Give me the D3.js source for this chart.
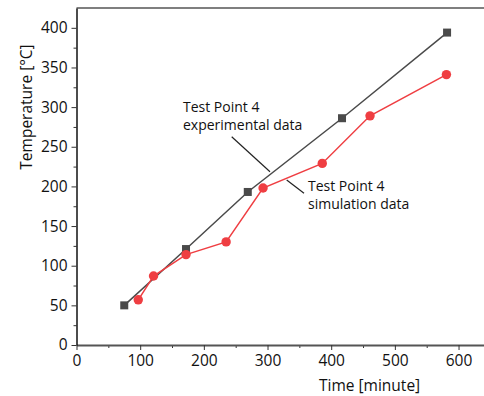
<!DOCTYPE html>
<html><head><meta charset="utf-8">
<script src="https://cdn.jsdelivr.net/npm/d3@7"></script>
<style>body{margin:0;background:#fff}svg{display:block}text{font-family:"Open Sans",sans-serif}</style>
</head><body>
<svg id="c" width="484" height="396"></svg>
<script>
const expTime = [75, 172, 269, 417, 582];
const expTemp = [50, 121, 193, 286, 394];
const simTime = [97, 121, 172, 235, 293, 386, 461, 581];
const simTemp = [57, 87, 114, 130, 198, 229, 289, 341];
const xTicks = [0, 100, 200, 300, 400, 500, 600];
const yTicks = [0, 50, 100, 150, 200, 250, 300, 350, 400];

const svg = d3.select("#c");
const L = 76.5, R = 484, T = 8, B = 345;
const x = d3.scaleLinear().domain([0, 640]).range([L, R]);
const y = d3.scaleLinear().domain([0, 425]).range([B, T]);
const gray = "#4a4a4a", red = "#ef3e42";

// top frame line
svg.append("line").attr("x1", L).attr("x2", R).attr("y1", T).attr("y2", T)
  .attr("stroke", "#555").attr("stroke-width", 1.5);

// minor ticks
const xMinor = d3.range(50, 640, 100);
const yMinor = d3.range(25, 425, 50);
svg.append("g").attr("transform", `translate(0,${B})`)
  .call(d3.axisBottom(x).tickValues(xMinor).tickSize(3).tickSizeOuter(0).tickFormat(""))
  .call(g => g.select(".domain").remove())
  .call(g => g.selectAll("line").attr("stroke", "#333"));
svg.append("g").attr("transform", `translate(${L},0)`)
  .call(d3.axisLeft(y).tickValues(yMinor).tickSize(3).tickSizeOuter(0).tickFormat(""))
  .call(g => g.select(".domain").remove())
  .call(g => g.selectAll("line").attr("stroke", "#333"));

// x axis
const gx = svg.append("g").attr("transform", `translate(0,${B})`)
  .call(d3.axisBottom(x).tickValues(xTicks).tickSize(5).tickSizeOuter(0).tickPadding(5));
gx.select(".domain").attr("stroke", "#555").attr("stroke-width", 2);
gx.selectAll("line").attr("stroke", "#333");
gx.selectAll("text").attr("font-size", 15.5).attr("fill", "#111").attr("font-family", '"Open Sans",sans-serif');

// y axis
const gy = svg.append("g").attr("transform", `translate(${L},0)`)
  .call(d3.axisLeft(y).tickValues(yTicks).tickSize(5).tickSizeOuter(0).tickPadding(4));
gy.select(".domain").attr("stroke", "#111").attr("stroke-width", 1.5);
gy.selectAll("line").attr("stroke", "#333");
gy.selectAll("text").attr("font-size", 15.5).attr("fill", "#111").attr("font-family", '"Open Sans",sans-serif');

// axis titles
svg.append("text").attr("x", 319).attr("y", 391).attr("font-size", 15.5).attr("fill", "#111")
  .text("Time [minute]");
svg.append("text").attr("transform", "translate(32,107) rotate(-90)").attr("text-anchor", "middle")
  .attr("font-size", 15.5).attr("fill", "#111").text("Temperature [°C]");

// lines
const line = d3.line().x(d => x(d[0])).y(d => y(d[1]));
const expData = expTime.map((t, i) => [t, expTemp[i]]);
const simData = simTime.map((t, i) => [t, simTemp[i]]);

svg.append("path").datum(expData).attr("d", line).attr("fill", "none")
  .attr("stroke", gray).attr("stroke-width", 1.5);
svg.append("path").datum(simData).attr("d", line).attr("fill", "none")
  .attr("stroke", red).attr("stroke-width", 1.5);

const s = 8;
svg.selectAll(".sq").data(expData).join("rect")
  .attr("x", d => x(d[0]) - s / 2).attr("y", d => y(d[1]) - s / 2)
  .attr("width", s).attr("height", s).attr("fill", gray);
svg.selectAll(".ci").data(simData).join("circle")
  .attr("cx", d => x(d[0])).attr("cy", d => y(d[1])).attr("r", 4.7).attr("fill", red);

// annotations
const ann = svg.append("g").attr("font-size", 14).attr("fill", "#111");
ann.append("text").attr("x", 183).attr("y", 112).text("Test Point 4");
ann.append("text").attr("x", 183).attr("y", 130).text("experimental data");
ann.append("text").attr("x", 308).attr("y", 191).text("Test Point 4");
ann.append("text").attr("x", 308).attr("y", 209).text("simulation data");
svg.append("line").attr("x1", 231.7).attr("y1", 136.7).attr("x2", 270).attr("y2", 171.7)
  .attr("stroke", "#222").attr("stroke-width", 1.2);
svg.append("line").attr("x1", 286.7).attr("y1", 180).attr("x2", 304).attr("y2", 193.3)
  .attr("stroke", "#222").attr("stroke-width", 1.2);
</script>
</body></html>
